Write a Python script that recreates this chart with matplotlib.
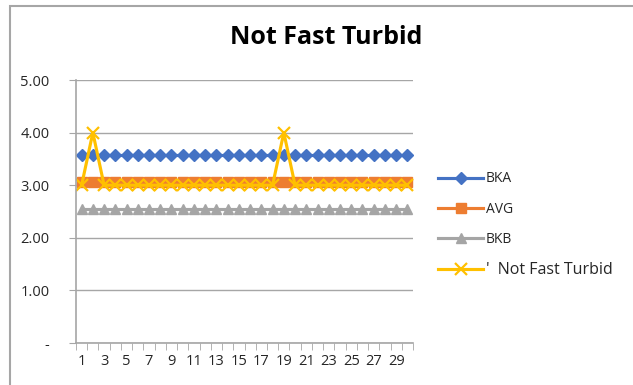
import matplotlib.pyplot as plt
from matplotlib.patches import Rectangle

days = list(range(1, 31))
bka = [3.57] * 30
avg = [3.07] * 30
bkb = [2.55] * 30
turbid = [3.0, 4.0, 3.0, 3.0, 3.0, 3.0, 3.0, 3.0, 3.0, 3.0,
          3.0, 3.0, 3.0, 3.0, 3.0, 3.0, 3.0, 3.0, 4.0, 3.0,
          3.0, 3.0, 3.0, 3.0, 3.0, 3.0, 3.0, 3.0, 3.0, 3.0]
y_ticks = [0, 1, 2, 3, 4, 5]
y_labels = ['-', '1.00', '2.00', '3.00', '4.00', '5.00']

plt.rcParams['font.family'] = ['Open Sans', 'DejaVu Sans']

fig = plt.figure(figsize=(6.33, 3.85), dpi=100)
# chart frame
fig.patches.append(Rectangle((10 / 633, -0.1), 1.2, 1 - 6 / 385 + 0.1,
                             transform=fig.transFigure, fill=False,
                             ec='#a6a6a6', lw=1.5))

ax = fig.add_axes([76 / 633, 1 - 343 / 385, 337 / 633, 263 / 385])

ax.plot(days, bka, color='#4472C4', lw=2.25, marker='D', ms=6, label='BKA')
ax.plot(days, avg, color='#ED7D31', lw=2.25, marker='s', ms=6.5, label='AVG')
ax.plot(days, bkb, color='#A5A5A5', lw=2.25, marker='^', ms=6.5, label='BKB')
ax.plot(days, turbid, color='#FFC000', lw=2.25, marker='x', ms=8.5, mew=1.6,
        label="'  Not Fast Turbid")

ax.set_xlim(0.5, 30.5)
ax.set_ylim(0, 5)
ax.set_yticks(y_ticks)
ax.set_yticklabels(y_labels)
ax.set_xticks(days[::2])
ax.set_xticks([d + 0.5 for d in range(0, 31)], minor=True)
ax.tick_params(axis='x', which='major', length=0, pad=8)
ax.tick_params(axis='x', which='minor', length=5, direction='out', color='#a6a6a6')
ax.tick_params(axis='y', length=5, direction='out', color='#a6a6a6', pad=14)
ax.tick_params(labelsize=10.5, labelcolor='#262626')
ax.grid(axis='y', color='#a6a6a6', lw=1)
ax.set_axisbelow(True)
for s in ['top', 'right']:
    ax.spines[s].set_visible(False)
for s in ['left', 'bottom']:
    ax.spines[s].set_color('#a6a6a6')
    ax.spines[s].set_linewidth(1.2)

fig.text(326 / 633, 1 - 38 / 385, 'Not Fast Turbid', ha='center', va='center',
         fontsize=18, fontweight='bold', color='black')

leg = fig.legend(loc='upper left', bbox_to_anchor=(426 / 633, 1 - 159 / 385),
                 frameon=False, fontsize=10, handlelength=3.2, handletextpad=0.2,
                 labelspacing=1.1, labelcolor='#262626')
leg.get_texts()[3].set_fontsize(11.5)

fig.savefig('out.png', dpi=100)
